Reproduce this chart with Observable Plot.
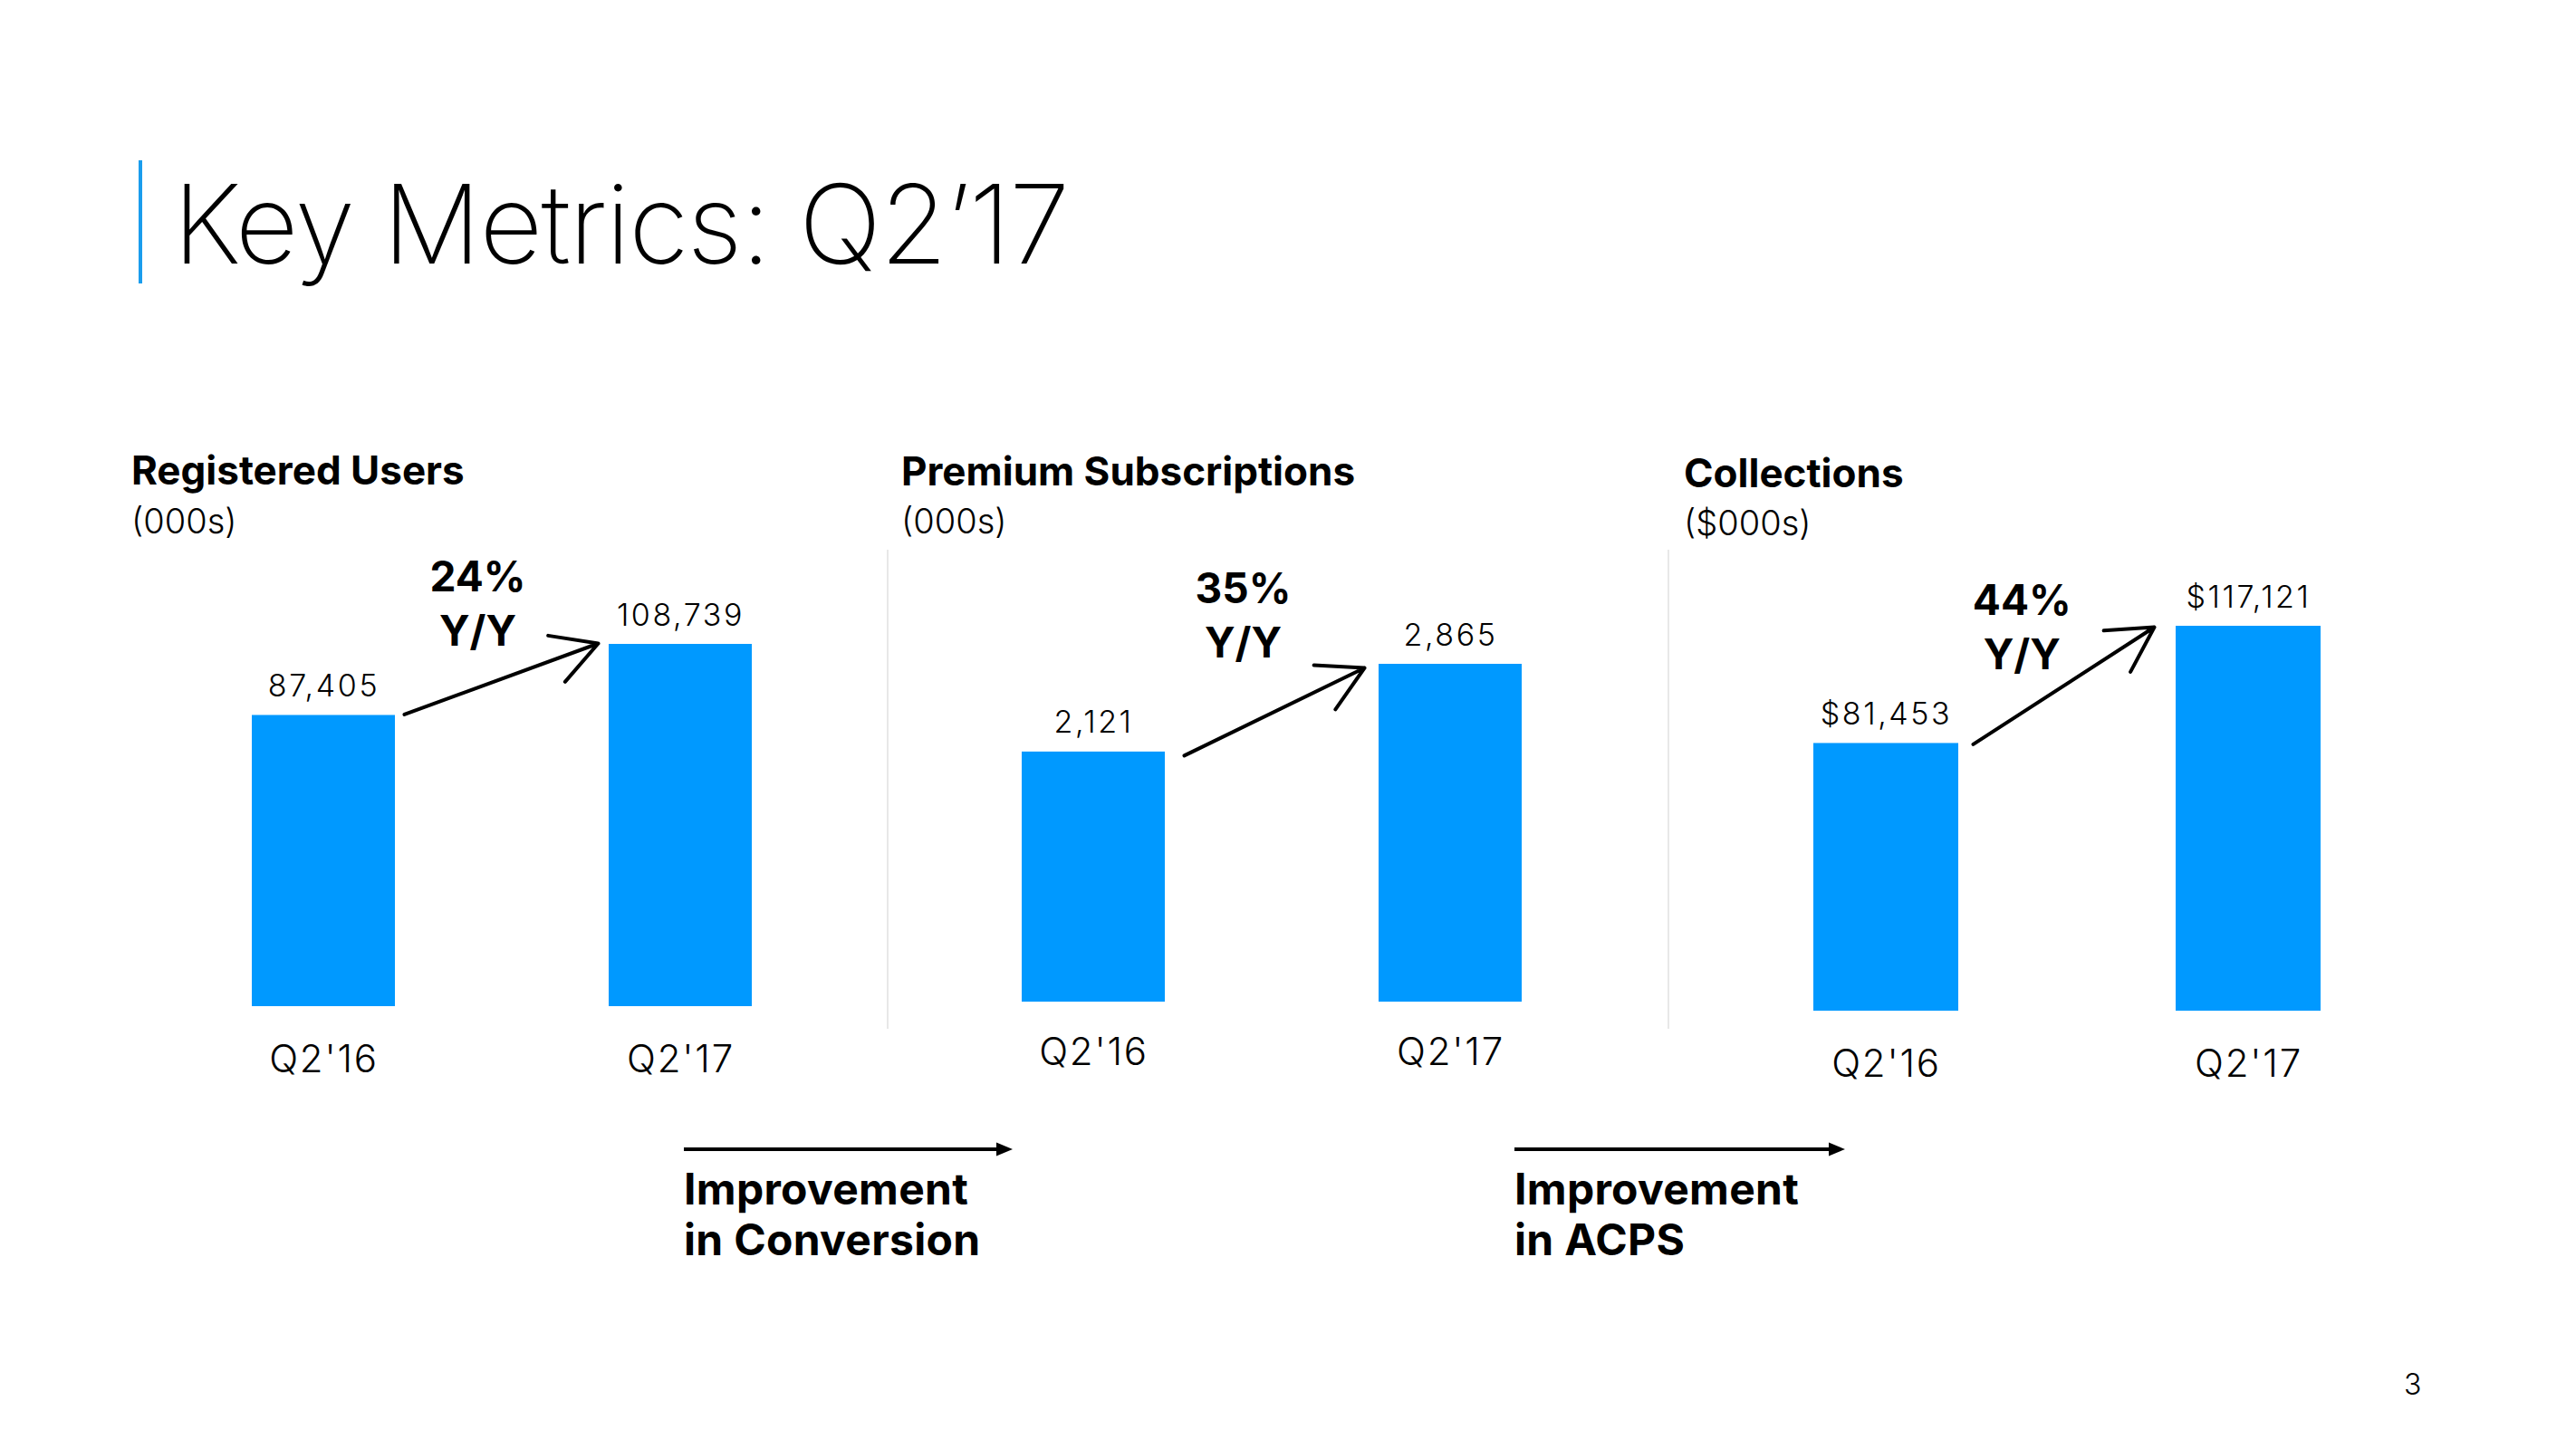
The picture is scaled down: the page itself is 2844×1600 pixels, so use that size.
<!DOCTYPE html>
<html>
<head>
<meta charset="utf-8">
<script src="https://cdn.jsdelivr.net/npm/d3@7"></script>
<script src="https://cdn.jsdelivr.net/npm/@observablehq/plot@0.6"></script>
<style>
  html, body { margin: 0; padding: 0; background: #fff; }
  #page { position: relative; width: 2844px; height: 1600px; overflow: hidden; background: #fff; color: #000; font-family: Inter, Roboto, "Liberation Sans", sans-serif; }
  .abs { position: absolute; white-space: pre; }
  .title { font-weight: 200; font-size: 121px; line-height: 1; letter-spacing: -1.7px; }
  .head { font-weight: 700; font-size: 44px; line-height: 1; }
  .unit { font-weight: 300; font-size: 38px; line-height: 1; }
  .note { font-weight: 700; font-size: 48px; line-height: 56px; letter-spacing: 0.3px; }
  .pgno { font-weight: 300; font-size: 32px; line-height: 1; }
  .plot { position: absolute; }
</style>
</head>
<body>
<div id="page"></div>
<script>
// ---------------- data ----------------
const categories = ["Q2'16", "Q2'17"];
const panelTitles = ["Registered Users", "Premium Subscriptions", "Collections"];
const panelUnits = ["(000s)", "(000s)", "($000s)"];
const registeredUsers = [87405, 108739];
const premiumSubscriptions = [2121, 2865];
const collections = [81453, 117121];
const valuePrefixes = ["", "", "$"];
const growthLabels = ["24%", "35%", "44%"];
const growthSuffix = "Y/Y";
const footnotes = ["Improvement\nin Conversion", "Improvement\nin ACPS"];
const mainTitle = "Key Metrics: Q2\u201917";
const pageNumber = "3";

// ---------------- layout / styles ----------------
const BAR = "#0099ff";
const ACCENT = "#1a9ded";
const LIGHT = "Inter, Roboto, 'Liberation Sans', sans-serif";
const layout = [
  {titleLeft: 145, titleBase: 535, unitBase: 589, svgLeft: 130, svgWidth: 800, mL: 69.4, mR: 21.4, mT: 151, mB: 149, tickPadding: 43, growthDx: -27, growthDy: 1, insetStart: 91, insetEnd: 93, gapStart: 10, gapEnd: 12, arrowDy: -1},
  {titleLeft: 995, titleBase: 536, unitBase: 589, svgLeft: 980, svgWidth: 800, mL: 69.4, mR: 21.4, mT: 173, mB: 154, tickPadding: 40, growthDx: -32, growthDy: -8, insetStart: 103, insetEnd: 98, gapStart: 21, gapEnd: 16, arrowDy: 4},
  {titleLeft: 1859, titleBase: 538, unitBase: 591, svgLeft: 1850, svgWidth: 820, mL: 71.3, mR: 27.8, mT: 131, mB: 144, tickPadding: 43, growthDx: -50, growthDy: 47, insetStart: 101, insetEnd: 110, gapStart: 16, gapEnd: 24, arrowDy: 1}
];
const svgTop = 560, svgHeight = 700;
const separators = [{left: 979, top: 607, height: 529}, {left: 1841, top: 607, height: 529}];
const noteLayout = [{left: 755, lineY: 1269, lineEnd: 1118, base: 1330}, {left: 1672, lineY: 1269, lineEnd: 2037, base: 1330}];

// does this Plot build support the mark render option (0.6.10+)?
const pv = String(Plot.version || "0.6.0").split(".").map(Number);
const hasRender = pv[0] > 0 || pv[1] > 6 || (pv[1] === 6 && pv[2] >= 10);

const page = document.getElementById("page");

function placeText(text, cls, left, baseline) {
  const el = document.createElement("div");
  el.className = "abs " + cls;
  const marker = document.createElement("span");
  marker.style.cssText = "display:inline-block;width:0;height:0;vertical-align:baseline;";
  el.appendChild(marker);
  el.appendChild(document.createTextNode(text));
  el.style.left = left + "px";
  el.style.top = "0px";
  page.appendChild(el);
  const off = marker.getBoundingClientRect().bottom - el.getBoundingClientRect().top;
  el.style.top = (baseline - off) + "px";
  return el;
}

// title
const accent = document.createElement("div");
accent.style.cssText = `position:absolute;left:153px;top:177px;width:4px;height:136px;background:${ACCENT};`;
page.appendChild(accent);
placeText(mainTitle, "title", 191, 291);

// separators
for (const s of separators) {
  const d = document.createElement("div");
  d.style.cssText = `position:absolute;left:${s.left}px;top:${s.top}px;width:2px;height:${s.height}px;background:#e8e8e8;`;
  page.appendChild(d);
}

const seriesList = [registeredUsers, premiumSubscriptions, collections];
seriesList.forEach((values, i) => {
  const L = layout[i];
  placeText(panelTitles[i], "head", L.titleLeft, L.titleBase);
  placeText(panelUnits[i], "unit", L.titleLeft, L.unitBase);

  const data = categories.map((c, j) => ({cat: c, value: values[j]}));
  const link = [{from: categories[0], to: categories[1], v0: values[0], v1: values[1]}];
  const fmt = d3.format(",");

  const arrowOpts = {x1: "from", y1: "v0", x2: "to", y2: "v1", stroke: "#000", strokeWidth: 4, headLength: 21, headAngle: 58};
  if (hasRender) {
    // start just right of the first bar, end just left of the second bar
    arrowOpts.dy = L.arrowDy;
    arrowOpts.render = (index, scales, vals, dims, ctx, next) => {
      const bw = scales.x.bandwidth ? scales.x.bandwidth() : 0;
      const X1 = Float64Array.from(vals.x1, x => x + bw / 2 + L.gapStart);
      const X2 = Float64Array.from(vals.x2, x => x - bw / 2 - L.gapEnd);
      return next(index, scales, {...vals, x1: X1, x2: X2}, dims, ctx);
    };
  } else {
    arrowOpts.insetStart = L.insetStart;
    arrowOpts.insetEnd = L.insetEnd;
  }

  const chart = Plot.plot({
    width: L.svgWidth,
    height: svgHeight,
    marginLeft: L.mL,
    marginRight: L.mR,
    marginTop: L.mT,
    marginBottom: L.mB,
    style: {fontFamily: LIGHT, background: "transparent", overflow: "visible", color: "#000"},
    x: {domain: categories, paddingInner: 0.6, paddingOuter: 0.2, label: null},
    y: {domain: [0, d3.max(values)], axis: null, label: null},
    marks: [
      Plot.barY(data, {x: "cat", y: "value", fill: BAR}),
      Plot.text(data, {x: "cat", y: "value", text: d => valuePrefixes[i] + fmt(d.value), lineAnchor: "bottom", dy: -21, fontSize: 34, fontWeight: 300, fill: "#000"}),
      Plot.arrow(link, arrowOpts),
      Plot.text([growthLabels[i] + "\n" + growthSuffix], {frameAnchor: "top", lineAnchor: "bottom", text: d => d, dx: L.growthDx, dy: L.growthDy, fontSize: 46, fontWeight: 700, lineHeight: 1.29, fill: "#000"}),
      Plot.axisX({tickSize: 0, tickPadding: L.tickPadding, fontSize: 42, fontWeight: 300, label: null, fill: "#000"})
    ]
  });
  const textGroups = chart.querySelectorAll('g[aria-label="text"]');
  if (textGroups[0]) textGroups[0].style.letterSpacing = "2.6px";
  const tickGroup = chart.querySelector('g[aria-label="x-axis tick label"]');
  if (tickGroup) tickGroup.style.letterSpacing = "1.8px";
  chart.classList.add("plot");
  chart.style.left = L.svgLeft + "px";
  chart.style.top = svgTop + "px";
  page.appendChild(chart);
});

// bottom annotations
noteLayout.forEach((n, i) => {
  const ns = "http://www.w3.org/2000/svg";
  const svg = document.createElementNS(ns, "svg");
  const w = n.lineEnd - n.left + 4;
  svg.setAttribute("width", w);
  svg.setAttribute("height", 24);
  svg.style.cssText = `position:absolute;left:${n.left}px;top:${n.lineY - 12}px;overflow:visible;`;
  const line = document.createElementNS(ns, "line");
  line.setAttribute("x1", 0); line.setAttribute("y1", 12);
  line.setAttribute("x2", w - 4 - 16); line.setAttribute("y2", 12);
  line.setAttribute("stroke", "#000"); line.setAttribute("stroke-width", 4);
  svg.appendChild(line);
  const head = document.createElementNS(ns, "path");
  const tip = w - 4;
  head.setAttribute("d", `M${tip},12 L${tip - 18},4.5 L${tip - 18},19.5 Z`);
  head.setAttribute("fill", "#000");
  svg.appendChild(head);
  page.appendChild(svg);
  placeText(footnotes[i], "note", n.left, n.base);
});

placeText(pageNumber, "pgno", 2654, 1540);
</script>
</body>
</html>
